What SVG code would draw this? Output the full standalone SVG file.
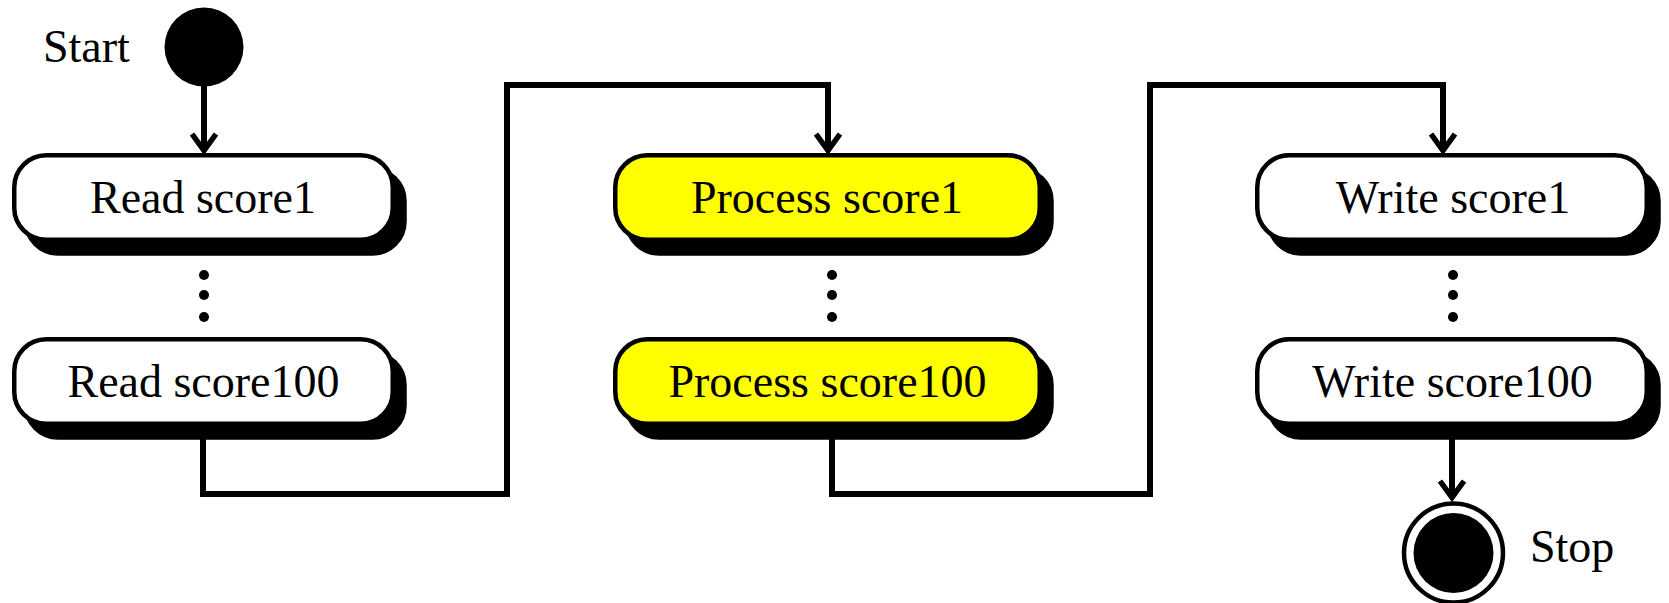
<svg xmlns="http://www.w3.org/2000/svg" width="1669" height="603" viewBox="0 0 1669 603">
<style>
.box{stroke:#000;stroke-width:4.5}
.plain{fill:#fff}
.hi{fill:#ffff00}
.shadow{fill:#000;stroke:#000;stroke-width:4.5}
.lbl{font-family:"Liberation Serif","Times New Roman",serif;font-size:46px;fill:#000}
.mid{text-anchor:middle}
.conn{fill:none;stroke:#000;stroke-width:6;stroke-linejoin:miter}
.dot{fill:#000}
</style>
<defs>
<marker id="arr" markerUnits="userSpaceOnUse" viewBox="-26 -15 30 30" refX="-5" refY="0" markerWidth="30" markerHeight="30" orient="auto" overflow="visible">
<path d="M -20 -12 L -3.5 0 L -20 12" fill="none" stroke="#000" stroke-width="5.5" stroke-linejoin="miter"/>
</marker>
</defs>
<rect width="1669" height="603" fill="#fff"/>
<g id="connectors">
<path class="conn" d="M204 86 V149" marker-end="url(#arr)"/>
<path class="conn" d="M203 420 V494 H507 V85 H828 V149" marker-end="url(#arr)"/>
<path class="conn" d="M832 420 V494 H1150 V85 H1443 V149" marker-end="url(#arr)"/>
<path class="conn" d="M1452 420 V496" marker-end="url(#arr)"/>
</g>
<g id="start">
<circle cx="204" cy="47" r="39.5" fill="#000"/>
<text class="lbl" x="43" y="62">Start</text>
</g>
<g id="read1">
<rect class="shadow" x="26" y="169" width="378.5" height="84.5" rx="32"/>
<rect class="box plain" x="14.25" y="155.25" width="378.5" height="84.5" rx="32"/>
<text class="lbl mid" x="203" y="213">Read score1</text>
</g>
<g id="read-dots">
<circle class="dot" cx="204" cy="275" r="5"/>
<circle class="dot" cx="204" cy="295" r="5"/>
<circle class="dot" cx="204" cy="317" r="5"/>
</g>
<g id="read100">
<rect class="shadow" x="26" y="353" width="378.5" height="84.5" rx="32"/>
<rect class="box plain" x="14.25" y="339.25" width="378.5" height="84.5" rx="32"/>
<text class="lbl mid" x="203.5" y="397">Read score100</text>
</g>
<g id="process1">
<rect class="shadow" x="627" y="169" width="424.5" height="84.5" rx="32"/>
<rect class="box hi" x="615.25" y="155.25" width="424.5" height="84.5" rx="32"/>
<text class="lbl mid" x="827" y="213">Process score1</text>
</g>
<g id="process-dots">
<circle class="dot" cx="832" cy="275" r="5"/>
<circle class="dot" cx="832" cy="295" r="5"/>
<circle class="dot" cx="832" cy="317" r="5"/>
</g>
<g id="process100">
<rect class="shadow" x="627" y="353" width="424.5" height="84.5" rx="32"/>
<rect class="box hi" x="615.25" y="339.25" width="424.5" height="84.5" rx="32"/>
<text class="lbl mid" x="827.5" y="397">Process score100</text>
</g>
<g id="write1">
<rect class="shadow" x="1269" y="169" width="389.5" height="84.5" rx="32"/>
<rect class="box plain" x="1257.25" y="155.25" width="389.5" height="84.5" rx="32"/>
<text class="lbl mid" x="1453" y="213">Write score1</text>
</g>
<g id="write-dots">
<circle class="dot" cx="1453" cy="275" r="5"/>
<circle class="dot" cx="1453" cy="295" r="5"/>
<circle class="dot" cx="1453" cy="317" r="5"/>
</g>
<g id="write100">
<rect class="shadow" x="1269" y="353" width="389.5" height="84.5" rx="32"/>
<rect class="box plain" x="1257.25" y="339.25" width="389.5" height="84.5" rx="32"/>
<text class="lbl mid" x="1452.5" y="397">Write score100</text>
</g>
<g id="stop">
<circle cx="1453.5" cy="553" r="49.5" fill="#fff" stroke="#000" stroke-width="4.5"/>
<circle cx="1453.5" cy="553" r="40" fill="#000"/>
<text class="lbl" x="1530" y="562">Stop</text>
</g>
</svg>
